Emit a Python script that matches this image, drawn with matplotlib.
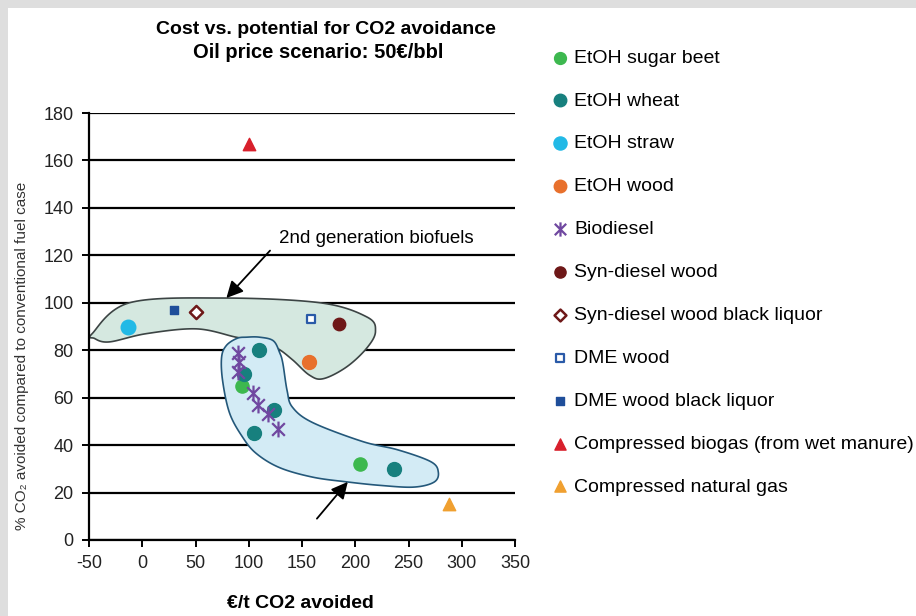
import numpy as np
import matplotlib
matplotlib.use("Agg")
import matplotlib.pyplot as plt
from matplotlib.patches import Rectangle
from matplotlib.path import Path

plt.rcParams['font.family'] = ['Liberation Sans', 'DejaVu Sans']
plt.rcParams['axes.unicode_minus'] = False

# Data: (x = EUR/t CO2 avoided, y = % CO2 avoided)
sugar_beet_x = [94, 204]
sugar_beet_y = [65, 32]
wheat_x = [110, 96, 124, 105, 236]
wheat_y = [80, 70, 55, 45, 30]
straw_x = [-13]
straw_y = [90]
etoh_wood_x = [157]
etoh_wood_y = [75]
biodiesel_x = [90, 91, 90, 104, 109, 118, 127]
biodiesel_y = [79, 75, 71, 62, 57, 53, 47]
syn_wood_x = [185]
syn_wood_y = [91]
syn_bl_x = [50]
syn_bl_y = [96]
dme_wood_x = [158]
dme_wood_y = [93]
dme_bl_x = [30]
dme_bl_y = [97]
biogas_x = [100]
biogas_y = [167]
cng_x = [288]
cng_y = [15]

# outline of the "2nd generation biofuels" group
upper_blob_x = [-47, -12, 75, 167, 211, 219, 211, 192, 170, 157, 141, 126, 107, 88, 51, 4, -31, -45]
upper_blob_y = [87, 100, 102, 100, 94, 88, 81, 73, 68, 69.5, 76, 81, 84, 85.5, 89, 87, 83.5, 85]
# outline of the 1st generation group
lower_blob_x = [89, 79, 74.5, 75.5, 82, 94, 107, 129, 160, 192, 224, 255, 274, 278, 271, 240, 207, 160, 141, 136, 132, 129, 123, 110, 98]
lower_blob_y = [85, 82, 77, 67, 53.5, 43.5, 36.5, 30.5, 26.5, 24.5, 23, 22.3, 24.4, 28.6, 33, 38, 41.5, 49.5, 56, 63, 74.5, 79, 84, 85.5, 85.5]


def smooth_closed(xs, ys, n=20):
    # periodic Catmull-Rom through the outline points
    p = np.column_stack([xs, ys]).astype(float)
    k = len(p)
    out = []
    for i in range(k):
        p0, p1, p2, p3 = p[i - 1], p[i], p[(i + 1) % k], p[(i + 2) % k]
        t = np.linspace(0, 1, n, endpoint=False)[:, None]
        seg = 0.5 * ((2 * p1) + (-p0 + p2) * t + (2 * p0 - 5 * p1 + 4 * p2 - p3) * t ** 2
                     + (-p0 + 3 * p1 - 3 * p2 + p3) * t ** 3)
        out.append(seg)
    out = np.vstack(out)
    return out[:, 0], out[:, 1]


star = Path([(0, -1), (0, 1), (-0.8, -0.8), (0.8, 0.8), (-0.8, 0.8), (0.8, -0.8)],
            [Path.MOVETO, Path.LINETO, Path.MOVETO, Path.LINETO, Path.MOVETO, Path.LINETO])

fig = plt.figure(figsize=(9.16, 6.16), dpi=100, facecolor='#dedede')
fig.patches.append(Rectangle((8 / 916, 0), 1, 1 - 8 / 616, transform=fig.transFigure,
                             facecolor='white', edgecolor='none', zorder=-10))
ax = fig.add_axes([89 / 916, 1 - 540 / 616, 426 / 916, 427 / 616])
ax.set_facecolor('none')

ux, uy = smooth_closed(upper_blob_x, upper_blob_y)
ax.fill(ux, uy, facecolor='#d5e8e0', edgecolor='#3c4444', linewidth=1.2, zorder=2)
lx, ly = smooth_closed(lower_blob_x, lower_blob_y)
ax.fill(lx, ly, facecolor='#d3ebf5', edgecolor='#24587a', linewidth=1.2, zorder=3)

ax.scatter(sugar_beet_x, sugar_beet_y, s=90, c='#3db84f', label='EtOH sugar beet', zorder=5)
ax.scatter(wheat_x, wheat_y, s=100, c='#17807e', label='EtOH wheat', zorder=5)
ax.scatter(straw_x, straw_y, s=110, c='#22b9e6', label='EtOH straw', zorder=5)
ax.scatter(etoh_wood_x, etoh_wood_y, s=100, c='#e8702c', label='EtOH wood', zorder=5)
ax.scatter(biodiesel_x, biodiesel_y, s=130, marker=star, c='#7048a0', linewidths=1.6,
           label='Biodiesel', zorder=6)
ax.scatter(syn_wood_x, syn_wood_y, s=80, c='#6e1818', label='Syn-diesel wood', zorder=5)
ax.scatter(syn_bl_x, syn_bl_y, s=45, marker='D', facecolors='white', edgecolors='#6e1818',
           linewidths=1.8, label='Syn-diesel wood black liquor', zorder=5)
ax.scatter(dme_wood_x, dme_wood_y, s=40, marker='s', facecolors='white', edgecolors='#2a5aa8',
           linewidths=1.6, label='DME wood', zorder=5)
ax.scatter(dme_bl_x, dme_bl_y, s=35, marker='s', c='#1f4e9a', label='DME wood black liquor', zorder=5)
ax.scatter(biogas_x, biogas_y, s=80, marker='^', c='#d8202c',
           label='Compressed biogas (from wet manure)', zorder=5)
ax.scatter(cng_x, cng_y, s=80, marker='^', c='#f0a030', label='Compressed natural gas', zorder=5)

head = '-|>,head_length=1.0,head_width=0.5'
ax.text(128, 127, '2nd generation biofuels', fontsize=13.5, ha='left', va='center', zorder=7)
ax.annotate('', xy=(79, 102), xytext=(120, 122), zorder=7,
            arrowprops=dict(arrowstyle=head, color='black', lw=1.3, shrinkA=0, shrinkB=0))
ax.annotate('', xy=(193, 24.5), xytext=(164, 9), zorder=7,
            arrowprops=dict(arrowstyle=head, color='black', lw=1.3, shrinkA=0, shrinkB=0))

ax.set_xlim(-50, 350)
ax.set_ylim(0, 180)
ax.set_xticks(np.arange(-50, 351, 50))
ax.set_yticks(np.arange(0, 181, 20))
ax.yaxis.grid(True, color='black', linewidth=1.6)
ax.set_axisbelow(True)
for s in ['top', 'right']:
    ax.spines[s].set_visible(False)
for s in ['left', 'bottom']:
    ax.spines[s].set_linewidth(1.6)
ax.tick_params(labelsize=13, width=1.4, length=5, pad=6, labelcolor='#222222')

fig.text(326 / 916, 1 - 30 / 616, 'Cost vs. potential for CO2 avoidance', ha='center',
         va='center', fontsize=14, fontweight='bold')
fig.text(318 / 916, 1 - 52 / 616, 'Oil price scenario: 50€/bbl', ha='center',
         va='center', fontsize=14.5, fontweight='bold')
fig.text(300 / 916, 1 - 604 / 616, '€/t CO2 avoided', ha='center', va='center',
         fontsize=14, fontweight='bold')
fig.text(22 / 916, 1 - 356 / 616, '% CO₂ avoided compared to conventional fuel case',
         rotation=90, ha='center', va='center', fontsize=11, color='#333333')

fig.legend(loc='upper left', bbox_to_anchor=(552 / 916, 1 - 49 / 616), frameon=False,
           fontsize=14, labelspacing=1.30, handlelength=0.8, handletextpad=0.35,
           borderaxespad=0, borderpad=0, scatterpoints=1, markerscale=0.9)

fig.savefig('out.png', dpi=100, facecolor=fig.get_facecolor())
